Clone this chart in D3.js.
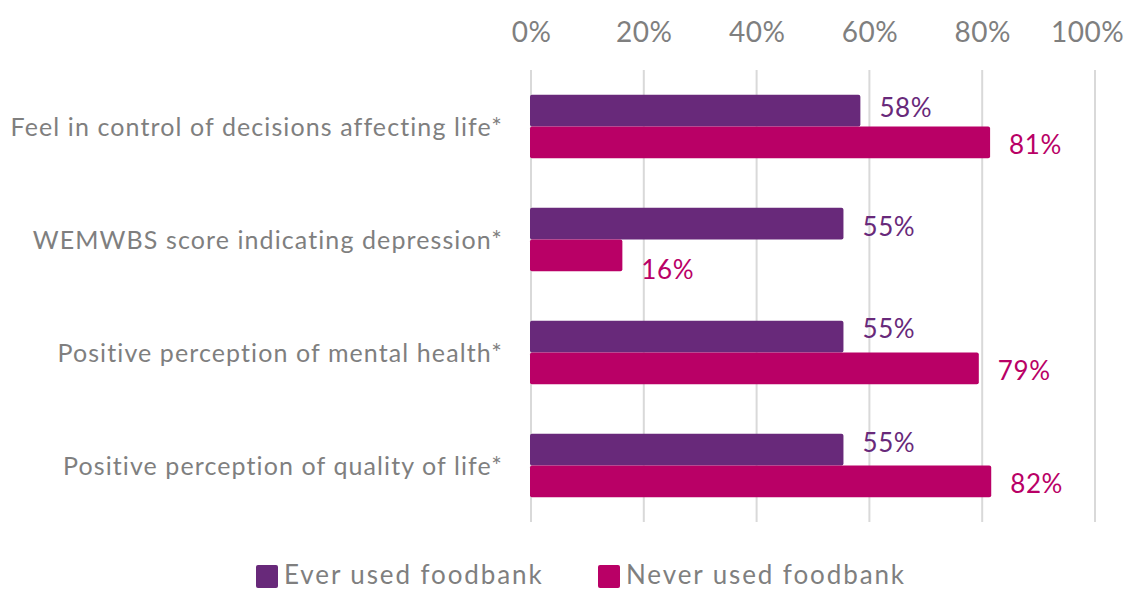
<!DOCTYPE html>
<html>
<head>
<meta charset="utf-8">
<script src="https://cdn.jsdelivr.net/npm/d3@7"></script>
<style>
  html, body { margin: 0; padding: 0; background: #fff; }
  text { font-family: Lato, "Open Sans", sans-serif; }
</style>
</head>
<body>
<svg id="chart" width="1133" height="590"></svg>
<script>
const categories = [
  "Feel in control of decisions affecting life*",
  "WEMWBS score indicating depression*",
  "Positive perception of mental health*",
  "Positive perception of quality of life*"
];
const seriesNames = ["Ever used foodbank", "Never used foodbank"];
const everUsed = [58.4, 55.4, 55.4, 55.4];
const neverUsed = [81.4, 16.2, 79.4, 81.6];
const tickValues = [0, 20, 40, 60, 80, 100];
const colors = ["#68297A", "#B90066"];
const labelDy = [[-4, 2], [2, 14], [-9, 2], [-8, 2]];

const svg = d3.select("#chart");
const x = d3.scaleLinear().domain([0, 100]).range([531, 1095]);
const y = d3.scaleBand().domain(categories).range([70, 522]).paddingInner(0.44).paddingOuter(0.22);
const yInner = d3.scaleBand().domain(seriesNames).range([0, y.bandwidth()]);

// gridlines
svg.append("g").selectAll("line").data(tickValues).join("line")
  .attr("x1", d => x(d)).attr("x2", d => x(d))
  .attr("y1", 70).attr("y2", 522)
  .attr("stroke", "#d9d9d9").attr("stroke-width", 2);

// top axis
const axis = d3.axisTop(x).tickValues(tickValues).tickFormat(d => d + "%").tickSize(0).tickPadding(0);
const ax = svg.append("g").attr("transform", "translate(0,42)").call(axis);
ax.select(".domain").remove();
ax.selectAll("text").attr("fill", "#7f7f7f").style("font-size", "28px")
  .style("letter-spacing", "0.5px").style("font-family", "Lato, sans-serif");
ax.selectAll(".tick").filter(d => d === 100).select("text").attr("dx", -8);

// category labels
svg.append("g").selectAll("text").data(categories).join("text")
  .attr("x", 503).attr("y", d => y(d) + y.bandwidth() / 2 - 1)
  .attr("text-anchor", "end").attr("dominant-baseline", "central")
  .attr("fill", "#7f7f7f").style("font-size", "25px").style("letter-spacing", "1.1px")
  .text(d => d);

const rows = categories.map((c, i) => ({ c, i, vals: [everUsed[i], neverUsed[i]] }));
const groups = svg.append("g").selectAll("g").data(rows).join("g")
  .attr("transform", d => `translate(0,${y(d.c)})`);

groups.selectAll("rect").data(d => d.vals.map((v, j) => ({ v, j }))).join("rect")
  .attr("x", x(0) - 1)
  .attr("y", d => yInner(seriesNames[d.j]))
  .attr("width", d => x(d.v) - x(0) + 1)
  .attr("height", yInner.bandwidth())
  .attr("rx", 2)
  .attr("fill", d => colors[d.j]);

groups.selectAll("text.lbl").data(d => d.vals.map((v, j) => ({ v, j, i: d.i }))).join("text")
  .attr("class", "lbl")
  .attr("x", d => x(d.v) + 19)
  .attr("y", d => yInner(seriesNames[d.j]) + yInner.bandwidth() / 2 + labelDy[d.i][d.j])
  .attr("dominant-baseline", "central")
  .attr("fill", d => colors[d.j]).style("font-size", "26px").style("letter-spacing", "0.6px")
  .text(d => Math.round(d.v) + "%");

// legend
const legendX = [256, 598];
const lg = svg.append("g").selectAll("g").data(seriesNames).join("g")
  .attr("transform", (d, i) => `translate(${legendX[i]},565)`);
lg.append("rect").attr("width", 22).attr("height", 23).attr("rx", 2).attr("fill", (d, i) => colors[i]);
lg.append("text").attr("x", 28).attr("y", 9).attr("dominant-baseline", "central")
  .attr("fill", "#7f7f7f").style("font-size", "26px").style("letter-spacing", "1.9px").text(d => d);
</script>
</body>
</html>
